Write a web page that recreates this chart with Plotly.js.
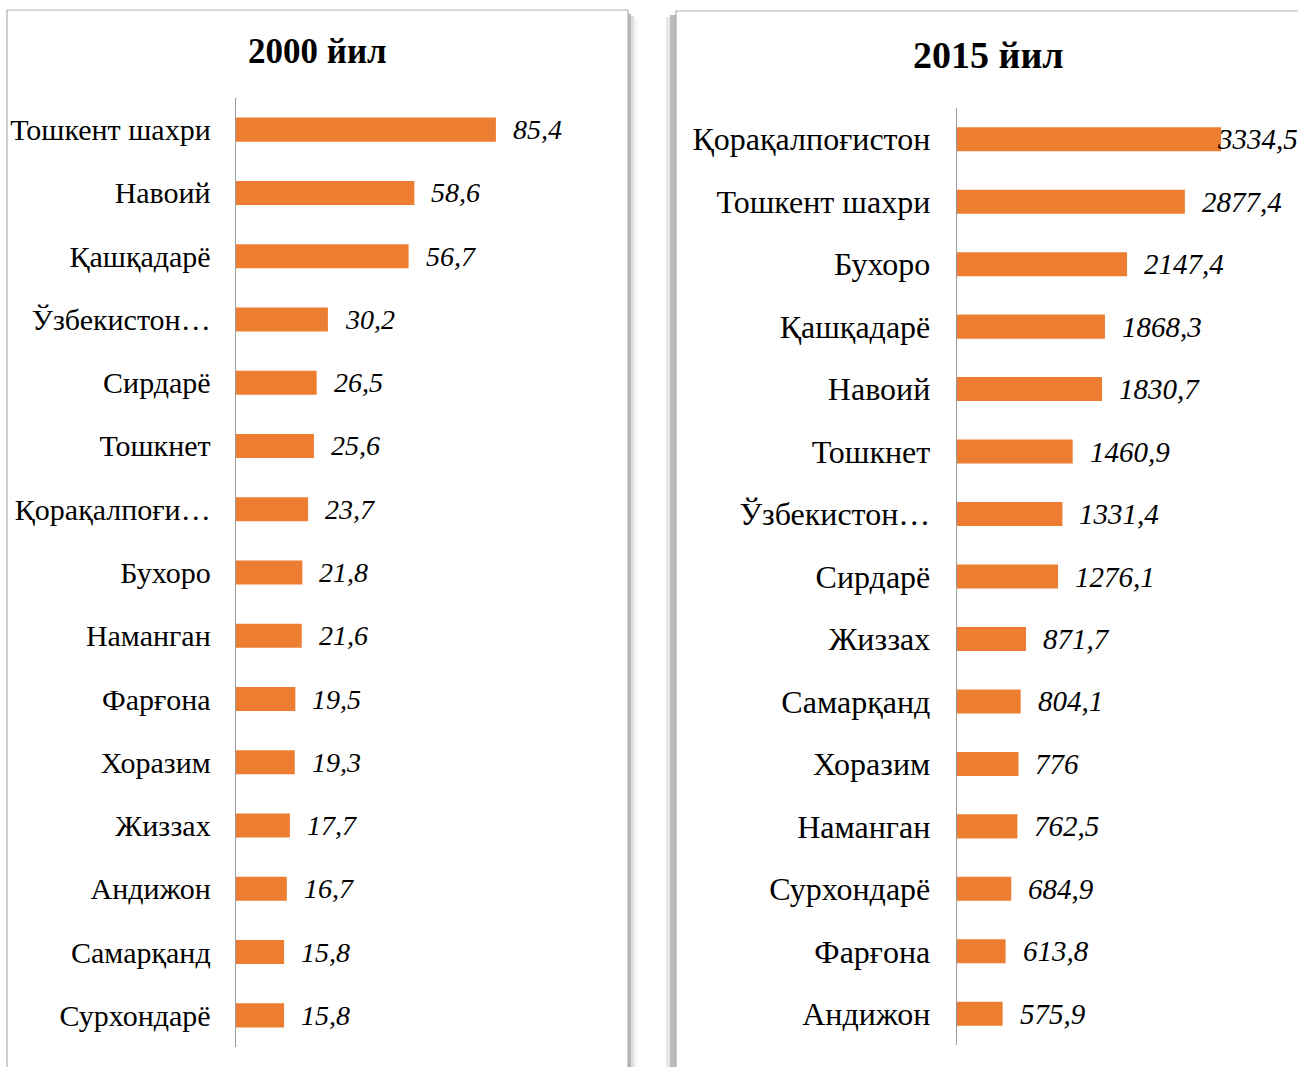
<!DOCTYPE html>
<html>
<head>
<meta charset="utf-8">
<script src="https://cdn.plot.ly/plotly-3.0.1.min.js"></script>
<style>
  html, body { margin: 0; padding: 0; background: #ffffff; }
  #chart { width: 1298px; height: 1067px; }
</style>
</head>
<body>
<div id="chart"></div>
<script>
// ---- Data ----
const title2000 = "2000 йил";
const regions2000 = [
  "Тошкент шахри", "Навоий", "Қашқадарё", "Ўзбекистон…", "Сирдарё",
  "Тошкнет", "Қорақалпоғи…", "Бухоро", "Наманган", "Фарғона",
  "Хоразим", "Жиззах", "Андижон", "Самарқанд", "Сурхондарё"
];
const values2000 = [85.4, 58.6, 56.7, 30.2, 26.5, 25.6, 23.7, 21.8, 21.6, 19.5, 19.3, 17.7, 16.7, 15.8, 15.8];

const title2015 = "2015 йил";
const regions2015 = [
  "Қорақалпоғистон", "Тошкент шахри", "Бухоро", "Қашқадарё", "Навоий",
  "Тошкнет", "Ўзбекистон…", "Сирдарё", "Жиззах", "Самарқанд",
  "Хоразим", "Наманган", "Сурхондарё", "Фарғона", "Андижон"
];
const values2015 = [3334.5, 2877.4, 2147.4, 1868.3, 1830.7, 1460.9, 1331.4, 1276.1, 871.7, 804.1, 776, 762.5, 684.9, 613.8, 575.9];

// ---- Layout helpers ----
const W = 1298, H = 1067;
const px = x => x / W;
const py = y => 1 - y / H;
const barColor = "#ED7D31";
const serif = "Liberation Serif, Times New Roman, serif";
const fmt = v => String(v).replace(".", ",");

const xRange1 = [0, 119.6];
const xRange2 = [0, 4306];
const xDom1 = [px(236), px(600)];
const xDom2 = [px(957), 1];

const traces = [
  {
    type: "bar", orientation: "h",
    x: values2000, y: regions2000,
    xaxis: "x", yaxis: "y",
    marker: { color: barColor },
    width: 0.38,
    hoverinfo: "x+y"
  },
  {
    type: "bar", orientation: "h",
    x: values2015, y: regions2015,
    xaxis: "x2", yaxis: "y2",
    marker: { color: barColor },
    width: 0.385,
    hoverinfo: "x+y"
  }
];

function labelAnns(vals, cats, xref, yref, range, dom, size) {
  return vals.map((v, i) => {
    const text = fmt(v);
    const endPx = (dom[0] + (dom[1] - dom[0]) * v / range[1]) * W;
    const estW = (text.replace(",", "").length * 0.5 + 0.25) * size;
    let shift = 15;
    if (endPx + shift + estW > W - 3) shift = (W - 3) - estW - endPx;
    return {
      x: v, y: cats[i], xref: xref, yref: yref,
      text: text, showarrow: false, xanchor: "left", yanchor: "middle",
      xshift: shift,
      font: { family: serif, size: size, color: "#000", style: "italic" }
    };
  });
}

const annotations = [
  { text: "<b>" + title2000 + "</b>", x: px(317), y: py(52), xref: "paper", yref: "paper",
    showarrow: false, xanchor: "center", yanchor: "middle",
    font: { family: serif, size: 35, color: "#000" } },
  { text: "<b>" + title2015 + "</b>", x: px(989), y: py(55), xref: "paper", yref: "paper",
    showarrow: false, xanchor: "center", yanchor: "middle",
    font: { family: serif, size: 38, color: "#000" } }
].concat(
  labelAnns(values2000, regions2000, "x", "y", xRange1, xDom1, 28),
  labelAnns(values2015, regions2015, "x2", "y2", xRange2, xDom2, 29)
);

function rect(x0, y0, x1, y1, opts) {
  return Object.assign({ type: "rect", xref: "paper", yref: "paper",
    x0: px(x0), x1: px(x1), y0: py(y0), y1: py(y1), layer: "below" }, opts);
}

const shapes = [
  // left panel shadow
  rect(628, 14, 631, 1100, { fillcolor: "rgba(120,120,120,0.55)", line: { width: 0 } }),
  rect(631, 16, 634, 1100, { fillcolor: "rgba(150,150,150,0.3)", line: { width: 0 } }),
  rect(634, 18, 637, 1100, { fillcolor: "rgba(180,180,180,0.15)", line: { width: 0 } }),
  // right panel shadow
  rect(670, 15, 676, 1100, { fillcolor: "rgba(120,120,120,0.5)", line: { width: 0 } }),
  rect(666, 17, 670, 1100, { fillcolor: "rgba(160,160,160,0.25)", line: { width: 0 } }),
  // panels
  rect(7, 10, 628, 1100, { fillcolor: "#ffffff", line: { color: "#B0B0B0", width: 1.2 } }),
  rect(676, 11, 1320, 1100, { fillcolor: "#ffffff", line: { color: "#B0B0B0", width: 1.2 } })
];

const yCommon = {
  type: "category", autorange: false, range: [14.5, -0.5],
  showline: true, linecolor: "#9A9A9A", linewidth: 1.3,
  showgrid: false, zeroline: false, ticks: "", fixedrange: true
};
const xCommon = {
  showline: false, showgrid: false, zeroline: false, showticklabels: false, ticks: "", fixedrange: true
};

const layout = {
  width: W, height: H,
  margin: { l: 0, r: 0, t: 0, b: 0, pad: 0 },
  paper_bgcolor: "#ffffff", plot_bgcolor: "rgba(0,0,0,0)",
  showlegend: false,
  xaxis: Object.assign({}, xCommon, { domain: xDom1, range: xRange1, anchor: "y" }),
  yaxis: Object.assign({}, yCommon, { domain: [py(1047), py(98)], anchor: "x",
    ticklabelstandoff: 18, tickfont: { family: serif, size: 30, color: "#000" } }),
  xaxis2: Object.assign({}, xCommon, { domain: xDom2, range: xRange2, anchor: "y2" }),
  yaxis2: Object.assign({}, yCommon, { domain: [py(1045), py(108)], anchor: "x2",
    ticklabelstandoff: 19, tickfont: { family: serif, size: 32, color: "#000" } }),
  shapes: shapes,
  annotations: annotations
};

Plotly.newPlot("chart", traces, layout, { displayModeBar: false, staticPlot: true });
</script>
</body>
</html>
